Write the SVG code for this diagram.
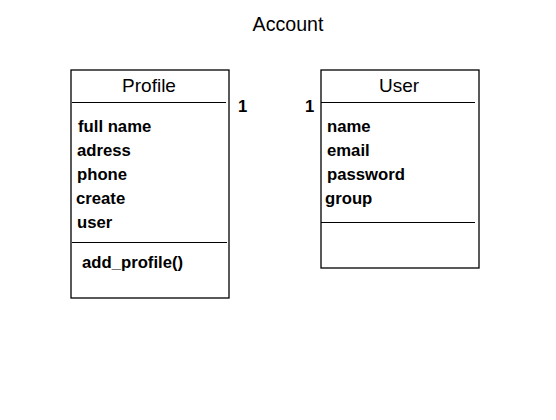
<svg xmlns="http://www.w3.org/2000/svg" width="556" height="420" viewBox="0 0 556 420">
<style>
.box{fill:#fff;stroke:#000;stroke-width:1.3}
.ln{stroke:#000;stroke-width:1}
.t{font-family:"Liberation Sans",Arial,sans-serif;font-size:19px;fill:#000}
.a{font-family:"Liberation Sans",Arial,sans-serif;font-size:16.7px;font-weight:bold;fill:#000}
</style>
<rect width="556" height="420" fill="#fff"/>
<text class="t" x="288" y="31" text-anchor="middle" style="font-size:19.6px">Account</text>
<g id="profile">
<rect class="box" x="71" y="70" width="158" height="228"/>
<line class="ln" x1="72" y1="102.5" x2="226" y2="102.5"/>
<line class="ln" x1="72" y1="242.5" x2="227" y2="242.5"/>
<text class="t" x="149" y="92" text-anchor="middle">Profile</text>
<text class="a" x="78" y="132">full name</text>
<text class="a" x="77" y="156">adress</text>
<text class="a" x="77" y="180">phone</text>
<text class="a" x="76" y="204">create</text>
<text class="a" x="77" y="228">user</text>
<text class="a" x="82" y="268">add_profile()</text>
</g>
<g id="user">
<rect class="box" x="321" y="70" width="158" height="198"/>
<line class="ln" x1="321" y1="102.5" x2="475" y2="102.5"/>
<line class="ln" x1="321" y1="222.5" x2="475" y2="222.5"/>
<text class="t" x="399" y="92" text-anchor="middle">User</text>
<text class="a" x="327" y="132">name</text>
<text class="a" x="327" y="156">email</text>
<text class="a" x="327" y="180">password</text>
<text class="a" x="325" y="204">group</text>
</g>
<g id="connectors">
<text class="a" x="238" y="112">1</text>
<text class="a" x="305" y="112">1</text>
</g>
</svg>
